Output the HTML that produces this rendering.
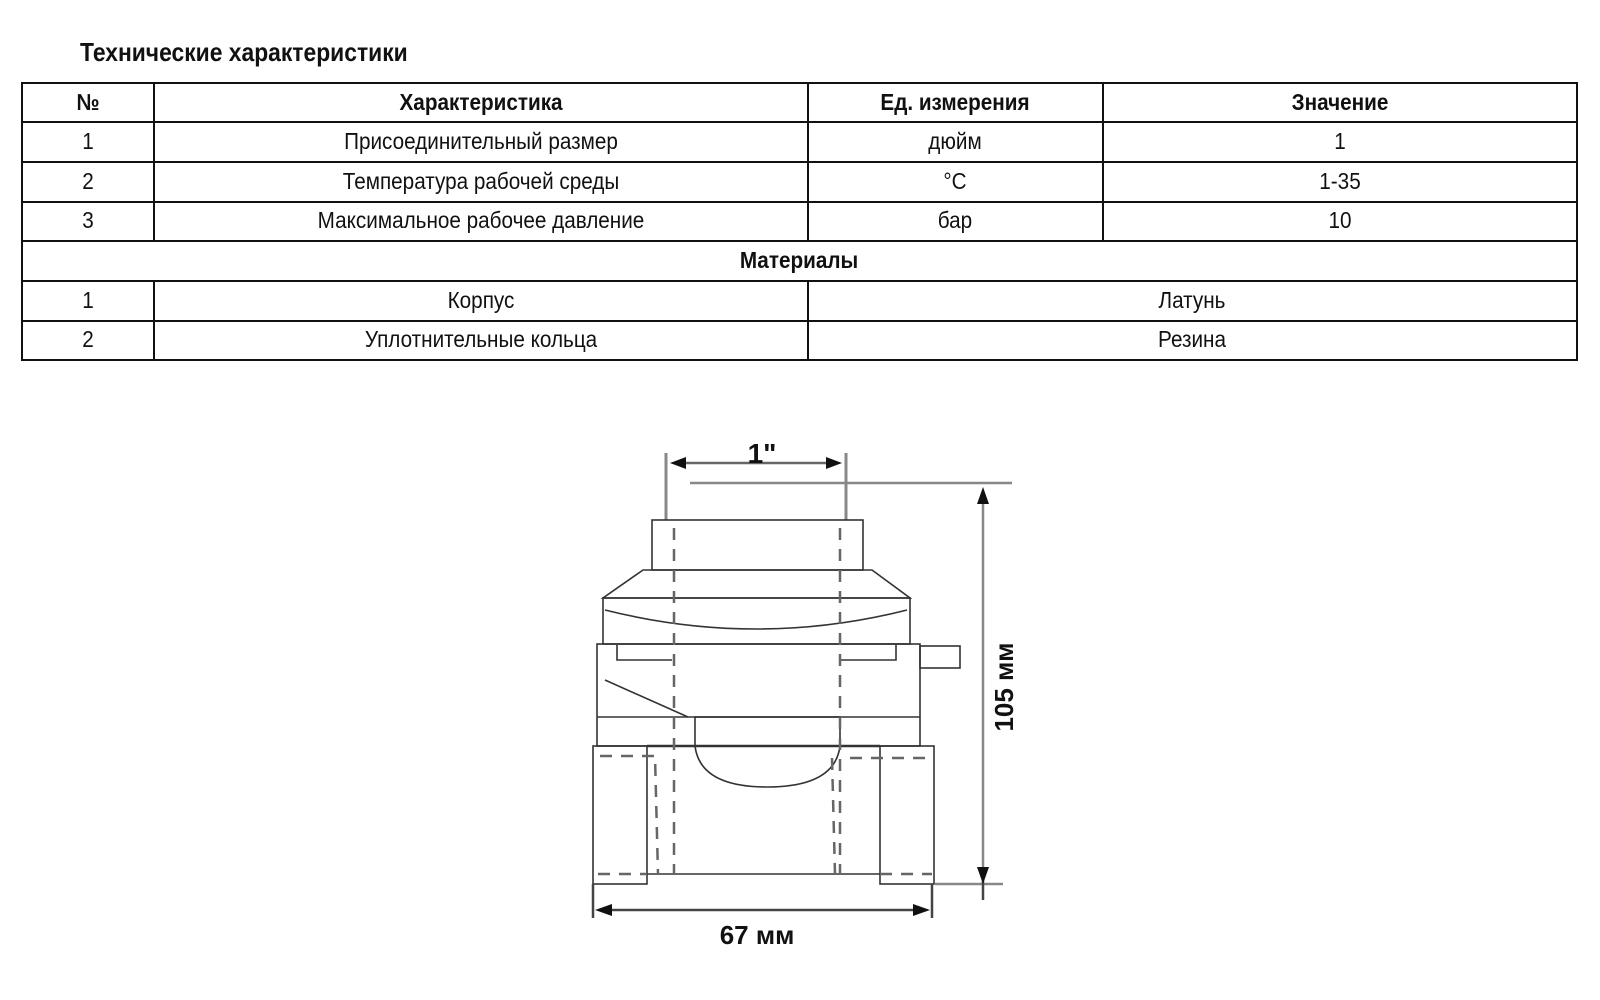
<!DOCTYPE html>
<html><head><meta charset="utf-8"><style>
html,body{margin:0;padding:0;background:#fff;}
svg{display:block}
text{font-family:"Liberation Sans",sans-serif;fill:#111;}
.c{transform-box:fill-box;transform-origin:center;transform:scaleX(.9);}
.t{font-size:23px;}
.b{font-weight:bold;}
</style></head><body>
<svg width="1600" height="1000" viewBox="0 0 1600 1000" xmlns="http://www.w3.org/2000/svg">
<text x="80" y="61" class="b" font-size="26" style="transform-box:fill-box;transform-origin:left;transform:scaleX(.88)">Технические характеристики</text>
<g stroke="#111" stroke-width="2" fill="none">
<rect x="22" y="83" width="1555" height="277"/>
<line x1="22" y1="122" x2="1577" y2="122"/>
<line x1="22" y1="162" x2="1577" y2="162"/>
<line x1="22" y1="202" x2="1577" y2="202"/>
<line x1="22" y1="241" x2="1577" y2="241"/>
<line x1="22" y1="281" x2="1577" y2="281"/>
<line x1="22" y1="321" x2="1577" y2="321"/>
<line x1="154" y1="83" x2="154" y2="241"/>
<line x1="154" y1="281" x2="154" y2="360"/>
<line x1="808" y1="83" x2="808" y2="241"/>
<line x1="808" y1="281" x2="808" y2="360"/>
<line x1="1103" y1="83" x2="1103" y2="241"/>
</g>
<g class="t" text-anchor="middle">
<text x="88" y="110" class="c b">№</text>
<text x="481" y="110" class="c b">Характеристика</text>
<text x="955" y="110" class="c b">Ед. измерения</text>
<text x="1340" y="110" class="c b">Значение</text>
<text x="88" y="149" class="c">1</text>
<text x="481" y="149" class="c">Присоединительный размер</text>
<text x="955" y="149" class="c">дюйм</text>
<text x="1340" y="149" class="c">1</text>
<text x="88" y="189" class="c">2</text>
<text x="481" y="189" class="c">Температура рабочей среды</text>
<text x="955" y="189" class="c">°C</text>
<text x="1340" y="189" class="c">1-35</text>
<text x="88" y="228" class="c">3</text>
<text x="481" y="228" class="c">Максимальное рабочее давление</text>
<text x="955" y="228" class="c">бар</text>
<text x="1340" y="228" class="c">10</text>
<text x="799" y="268" class="c b">Материалы</text>
<text x="88" y="308" class="c">1</text>
<text x="481" y="308" class="c">Корпус</text>
<text x="1192" y="308" class="c">Латунь</text>
<text x="88" y="347" class="c">2</text>
<text x="481" y="347" class="c">Уплотнительные кольца</text>
<text x="1192" y="347" class="c">Резина</text>
</g>
<g stroke="#333" stroke-width="1.6" fill="none">
<line x1="666" y1="453" x2="666" y2="520" stroke-width="3" stroke="#888"/>
<line x1="846" y1="453" x2="846" y2="520" stroke-width="3" stroke="#888"/>
<line x1="676" y1="463" x2="836" y2="463" stroke-width="2.5" stroke="#666"/>
<line x1="690" y1="483" x2="1012" y2="483" stroke-width="2.5" stroke="#888"/>
<rect x="652" y="520" width="211" height="50"/>
<polygon points="643,570 872,570 910,598 603,598"/>
<rect x="603" y="598" width="307" height="46"/>
<path d="M605,610 Q757,648 907,610"/>
<rect x="597" y="644" width="323" height="102"/>
<line x1="597" y1="717" x2="920" y2="717"/>
<path d="M605,680 L688,717"/>
<path d="M617,645 L617,660 L672,660"/>
<path d="M840,660 L896,660 L896,645"/>
<rect x="920" y="646" width="40" height="22"/>
<rect x="695" y="717" width="145" height="29"/>
<path d="M695,746 Q700,787 767,787 Q835,787 840,746"/>
<rect x="593" y="746" width="54" height="138"/>
<rect x="880" y="746" width="54" height="138"/>
<line x1="647" y1="874" x2="880" y2="874"/>
<line x1="647" y1="746" x2="880" y2="746" stroke-width="2.5"/>
</g>
<g stroke="#666" stroke-width="2.5" stroke-dasharray="12,9" fill="none">
<line x1="674" y1="528" x2="674" y2="874"/>
<line x1="840" y1="528" x2="840" y2="874"/>
<path d="M600,756 L655,756 L658,874"/>
<line x1="598" y1="874" x2="647" y2="874"/>
<line x1="850" y1="758" x2="932" y2="758"/>
<line x1="832" y1="758" x2="835" y2="874"/>
<line x1="880" y1="874" x2="932" y2="874"/>
</g>
<g stroke="#444" stroke-width="2.5" fill="none">
<line x1="983" y1="495" x2="983" y2="870" stroke="#888"/>
<line x1="935" y1="884" x2="1003" y2="884" stroke="#888"/>
<line x1="983" y1="870" x2="983" y2="900"/>
<line x1="593" y1="884" x2="593" y2="918"/>
<line x1="932" y1="884" x2="932" y2="918"/>
<line x1="605" y1="910" x2="920" y2="910"/>
</g>
<g fill="#111">
<polygon points="670,463 686,457 686,469"/>
<polygon points="842,463 826,457 826,469"/>
<polygon points="983,487 977,504 989,504"/>
<polygon points="983,884 977,867 989,867"/>
<polygon points="595,910 612,904 612,916"/>
<polygon points="930,910 913,904 913,916"/>
</g>
<text x="762" y="463" text-anchor="middle" class="b" font-size="28">1"</text>
<text x="757" y="944" text-anchor="middle" class="b" font-size="26">67 мм</text>
<text transform="translate(1013,687) rotate(-90)" text-anchor="middle" class="b" font-size="26">105 мм</text>
</svg>
</body></html>
